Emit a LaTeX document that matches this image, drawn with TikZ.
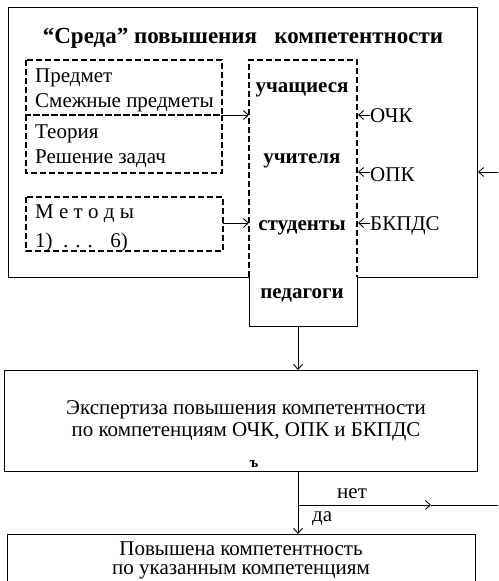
\documentclass[tikz,border=0pt]{standalone}
\usepackage{fontspec}
\setmainfont{Liberation Serif}
\usetikzlibrary{arrows.meta}
\begin{document}
\begin{tikzpicture}[x=1pt,y=-1pt,
  txt/.style={inner sep=0pt, anchor=base west, font=\fontsize{21}{23}\selectfont},
  ctxt/.style={inner sep=0pt, anchor=base, font=\fontsize{21}{23}\selectfont},
  bld/.style={inner sep=0pt, anchor=base, font=\fontsize{21}{23}\selectfont\bfseries},
  dbox/.style={draw, line width=1.3pt, dash pattern=on 6pt off 3pt},
  sline/.style={draw, line width=0.9pt},
  arr/.style={-{Straight Barb[length=5pt,width=9pt]}, line width=0.9pt}]
\useasboundingbox (0,0) rectangle (498,581);
% outer box
\draw[sline] (249,277) -- (8,277) -- (8,7) -- (477,7) -- (477,277) -- (357,277);
\node[bld, font=\fontsize{23}{25}\selectfont\bfseries] (title) at (243,43) {“Среда” повышения \ \ компетентности};
% left dashed boxes
\draw[dbox] (26,60) rectangle (222,115);
\draw[dbox] (26,115) rectangle (222,173);
\draw[dbox] (26,197) rectangle (223,251);
\node[txt] (t1) at (35,82) {Предмет};
\node[txt] (t2) at (35,107) {Смежные предметы};
\node[txt] (t3) at (35,138) {Теория};
\node[txt] (t4) at (35,163) {Решение задач};
\node[txt] (t5) at (35,218) {М е т о д ы};
\node[txt] (t6) at (35,247) {1) \ . . . \ \ 6)};
% central column
\draw[dbox] (249,277) -- (249,60) -- (357,60) -- (357,277);
\draw[sline] (249,277) -- (249,326) -- (357,326) -- (357,277);
\coordinate (cIn1) at (249,115);
\coordinate (cIn2) at (249,223);
\coordinate (lOut1) at (222,115);
\coordinate (lOut2) at (223,223);
\node[bld] (s1) at (302,92) {учащиеся};
\node[bld] (s2) at (302,163) {учителя};
\node[bld] (s3) at (302,230) {студенты};
\node[bld] (s4) at (302,298) {педагоги};
\draw[arr] (lOut1) -- (cIn1);
\draw[arr] (lOut2) -- (cIn2);
% right inputs
\node[txt] (k1) at (370,122) {ОЧК};
\node[txt] (k2) at (370,181) {ОПК};
\node[txt] (k3) at (370,230) {БКПДС};
\coordinate (r1) at (358,115);
\coordinate (r2) at (358,172);
\coordinate (r3) at (358,223);
\draw[arr] (370,115) -- (r1);
\draw[arr] (370,172) -- (r2);
\draw[arr] (370,223) -- (r3);
\coordinate (fbIn) at (478,172);
\draw[arr] (498,172) -- (fbIn);
% expertise box
\draw[sline] (4,370) rectangle (477,471);
\node[ctxt] (e1) at (246,414) {Экспертиза повышения компетентности};
\node[ctxt] (e2) at (246,436) {по компетенциям ОЧК, ОПК и БКПДС};
\node[bld, font=\fontsize{15}{16}\selectfont\bfseries] (hb) at (254,467) {ъ};
\coordinate (colBot) at (298,326);
\coordinate (eTop) at (298,370);
\draw[arr] (colBot) -- (eTop);
% decision
\coordinate (eBot) at (298,471);
\coordinate (split) at (298,505);
\coordinate (rTop) at (298,534);
\draw[arr] (eBot) -- (rTop);
\coordinate (netMid) at (431,505);
\coordinate (netEnd) at (498,505);
\draw[arr] (split) -- (netMid);
\draw[sline] (netMid) -- (netEnd);
\node[txt] (net) at (337,498) {нет};
\node[txt] (da) at (312,521) {да};
% result box
\draw[sline] (7,590) -- (7,534) -- (475,534) -- (475,590);
\node[ctxt] (r1t) at (241,555) {Повышена компетентность};
\node[ctxt] (r2t) at (241,574) {по указанным компетенциям};
\end{tikzpicture}
\end{document}
